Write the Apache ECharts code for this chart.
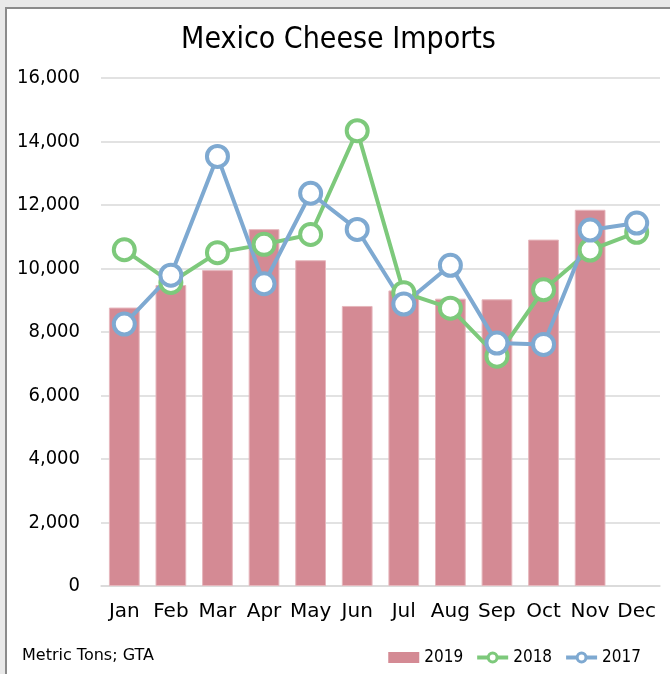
<!DOCTYPE html>
<html>
<head>
<meta charset="utf-8">
<script src="https://cdn.jsdelivr.net/npm/echarts@6/dist/echarts.min.js"></script>
<style>
  html, body { margin: 0; padding: 0; background: #e9e9e9; width: 670px; height: 674px; overflow: hidden; }
  #frame { position: absolute; left: 5px; top: 7px; width: 663px; height: 665px;
           border-left: 2px solid #8b8b8b; border-top: 2px solid #8b8b8b; background: #ffffff; }
  #chart { width: 663px; height: 665px; }
</style>
</head>
<body>
<div id="frame"><div id="chart"></div></div>
<script>
// Monthly cheese imports into Mexico, metric tons
const months = ['Jan','Feb','Mar','Apr','May','Jun','Jul','Aug','Sep','Oct','Nov','Dec'];
const imports2019 = [8770, 9480, 9950, 11240, 10260, 8820, 9310, 9050, 9030, 10910, 11850, null];
const imports2018 = [10590, 9560, 10500, 10760, 11070, 14340, 9240, 8750, 7240, 9330, 10580, 11140];
const imports2017 = [8250, 9790, 13530, 9520, 12370, 11230, 8880, 10100, 7650, 7610, 11210, 11430];
const yTicks = { min: 0, max: 16000, interval: 2000 };

const NARROW = "'DejaVu Sans Condensed', 'DejaVu Sans', sans-serif";
const WIDE = "'DejaVu Sans', sans-serif";
const BAR = '#d48a94';
const GREEN = '#7dc97b';
const BLUE = '#7ea9d1';

const chart = echarts.init(document.getElementById('chart'), null, { renderer: 'canvas' });

function lineSeries(name, data, color) {
  return {
    name: name,
    type: 'line',
    data: data,
    symbol: 'circle',
    symbolSize: 21,
    lineStyle: { color: color, width: 4 },
    itemStyle: { color: '#ffffff', borderColor: color, borderWidth: 4 },
    emphasis: { disabled: true },
    z: 3
  };
}

chart.setOption({
  animation: false,
  textStyle: { fontFamily: NARROW },
  title: {
    text: 'Mexico Cheese Imports',
    left: 'center',
    top: 11,
    textStyle: { fontFamily: NARROW, fontSize: 30, fontWeight: 'normal', color: '#000000' }
  },
  grid: { left: 94, right: 10, top: 69, bottom: 88 },
  xAxis: {
    type: 'category',
    data: months,
    axisTick: { show: false },
    axisLine: { lineStyle: { color: '#d9d9d9', width: 1.5 } },
    axisLabel: { color: '#000000', fontSize: 20, fontFamily: WIDE, margin: 16, interval: 0, hideOverlap: false }
  },
  yAxis: {
    type: 'value',
    min: yTicks.min,
    max: yTicks.max,
    interval: yTicks.interval,
    axisLabel: {
      color: '#000000', fontSize: 20, fontFamily: NARROW, margin: 21,
      formatter: v => v.toLocaleString('en-US')
    },
    splitLine: { lineStyle: { color: '#d9d9d9', width: 1.5 } },
    axisLine: { show: false },
    axisTick: { show: false }
  },
  legend: {
    right: 24,
    top: 635,
    itemGap: 12,
    itemWidth: 31,
    itemHeight: 11,
    textStyle: { color: '#000000', fontSize: 17, fontFamily: NARROW },
    data: [
      { name: '2019', icon: 'rect', itemStyle: { color: BAR, borderWidth: 0 } },
      { name: '2018', lineStyle: { width: 4 }, itemStyle: { borderWidth: 3 } },
      { name: '2017', lineStyle: { width: 4 }, itemStyle: { borderWidth: 3 } }
    ]
  },
  graphic: [{
    type: 'text',
    left: 15,
    top: 639,
    style: { text: 'Metric Tons; GTA', fontSize: 16, fontFamily: WIDE, fill: '#000000' }
  }],
  series: [
    {
      name: '2019',
      type: 'bar',
      data: imports2019,
      barWidth: '66%',
      itemStyle: { color: BAR, borderColor: '#e6b7bd', borderWidth: 1 },
      emphasis: { disabled: true },
      z: 1
    },
    lineSeries('2018', imports2018, GREEN),
    lineSeries('2017', imports2017, BLUE)
  ]
});
</script>
</body>
</html>
